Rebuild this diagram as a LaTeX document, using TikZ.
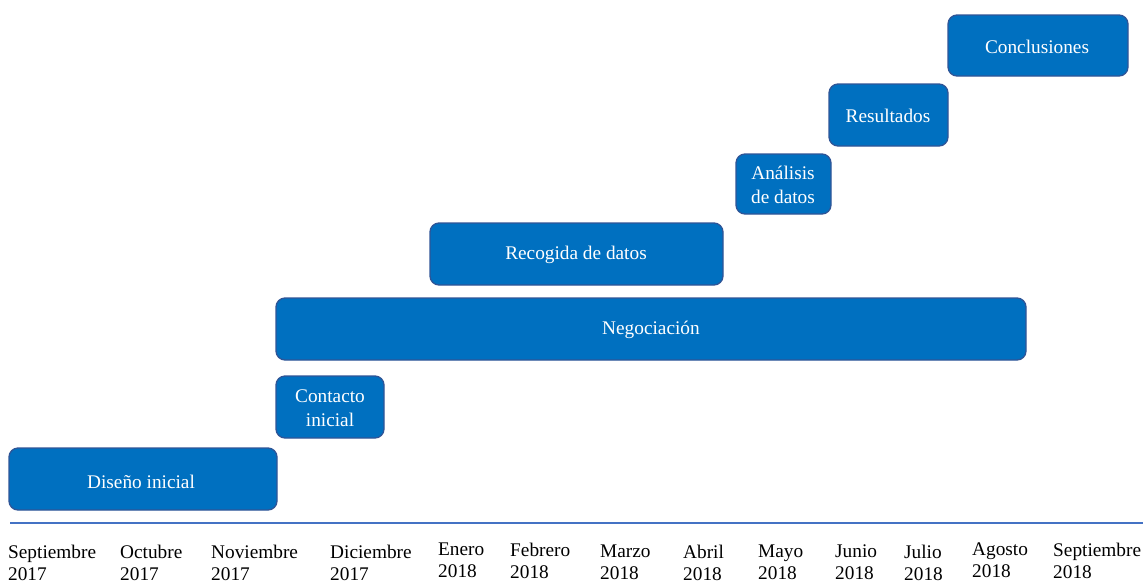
\documentclass[tikz,border=0pt]{standalone}
\usepackage{fontspec}
\setmainfont{Liberation Serif}
\definecolor{boxfill}{HTML}{0070C0}
\definecolor{boxline}{HTML}{2F5597}
\definecolor{axisline}{HTML}{4472C4}
\begin{document}
\begin{tikzpicture}[x=1pt,y=-1pt,
  phase/.style={draw=boxline,line width=1.3pt,fill=boxfill,rounded corners=9pt},
  ptext/.style={text=white,font=\fontsize{19.3}{24}\selectfont,align=center},
  month/.style={anchor=north west,inner sep=0pt,align=left,font=\fontsize{19.3}{21.5}\selectfont}]
\useasboundingbox (0,0) rectangle (1143,582);
% phases
\path[phase] (9,448) rectangle (277,510);
\node[ptext] (dis) at (141,482) {Diseño inicial};
\path[phase] (276,376) rectangle (384,438);
\node[ptext] (con) at (330,408) {Contacto\\inicial};
\path[phase] (276,298) rectangle (1026,360);
\node[ptext] (neg) at (651,330) {Negociación};
\path[phase] (430,223) rectangle (723,285);
\node[ptext] (rec) at (576,255) {Recogida de datos};
\path[phase] (736,154) rectangle (831,214);
\node[ptext] (ana) at (783,185) {Análisis\\de datos};
\path[phase] (829,84) rectangle (948,146);
\node[ptext] (res) at (888,116) {Resultados};
\path[phase] (948,15) rectangle (1128,76);
\node[ptext] (conc) at (1037,47) {Conclusiones};
% axis
\coordinate (axL) at (10,523);
\coordinate (axR) at (1143,523);
\draw[axisline,line width=1.8pt] (axL) -- (axR);
% months
\node[month] (m1) at (8,545) {Septiembre\\2017};
\node[month] (m2) at (120,545) {Octubre\\2017};
\node[month] (m3) at (211,545) {Noviembre\\2017};
\node[month] (m4) at (330,545) {Diciembre\\2017};
\node[month] (m5) at (438,543) {Enero\\2018};
\node[month] (m6) at (510,543) {Febrero\\2018};
\node[month] (m7) at (600,545) {Marzo\\2018};
\node[month] (m8) at (683,545) {Abril\\2018};
\node[month] (m9) at (758,545) {Mayo\\2018};
\node[month] (m10) at (835,545) {Junio\\2018};
\node[month] (m11) at (904,545) {Julio\\2018};
\node[month] (m12) at (972,543) {Agosto\\2018};
\node[month] (m13) at (1053,543) {Septiembre\\2018};
\end{tikzpicture}
\end{document}
